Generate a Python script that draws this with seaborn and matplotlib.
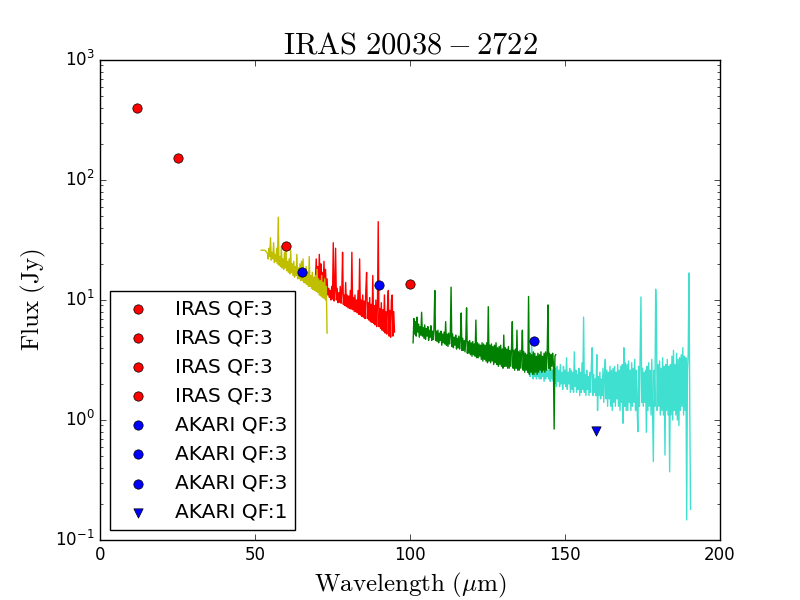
import numpy as np
import matplotlib
matplotlib.use('Agg')
import matplotlib.pyplot as plt
from matplotlib.ticker import FuncFormatter
import seaborn as sns

# photometry
iras_wl = [12, 25, 60, 100]
iras_flux = [400, 152, 28.2, 13.6]
akari_wl = [65, 90, 140]
akari_flux = [17.1, 13.3, 4.55]
akari_lim_wl = [160]
akari_lim_flux = [0.81]

# spectra (flux in Jy, sampled every 0.25 um between the range limits)
yellow_range = (52.0, 73.25)
yellow_flux = [26, 26, 26, 26, 26, 25.8, 25.5, 25, 24.5,
               22, 27, 23, 33, 21.5, 25, 22, 30, 20.5, 24, 21, 27, 20, 49, 19.5,
               23, 19, 28, 18.5, 22, 18, 25, 18.5, 26, 17.5, 21, 17, 22, 16.5,
               26, 17, 20, 16, 21, 15.5, 19, 16, 24, 15, 18.5, 15, 20, 14.5, 21,
               14.5, 22, 14, 17.5, 13.8, 19, 13.5, 17, 13, 23, 13, 16, 12.5, 17,
               12.2, 15.5, 12, 16, 11.8, 18, 11.5, 15, 11, 14.5, 10.8, 16, 10.5,
               14, 10.3, 15, 10, 13, 5.3]

red_range = (69.5, 95.0)
red_flux = [15, 22, 14, 19, 13, 24, 14, 20, 12.5, 17, 13, 21, 12, 18, 11.5, 15,
            11, 12.5, 10.5, 12, 10, 13, 10.2, 30, 9.8, 12, 27, 10, 12.5, 9.5,
            11.5, 9.6, 13, 9.4, 11.5, 25, 9.2, 11, 9, 14, 8.8, 11, 8.6, 10.8,
            8.5, 12, 8.4, 25, 8.3, 10.5, 8, 11, 8, 10, 7.8, 12, 7.6, 22, 7.5,
            10, 7.3, 11, 7.2, 9.8, 7, 12, 17, 7, 9.5, 6.8, 10.5, 6.6, 9.2, 6.5,
            16, 6.4, 9, 6.2, 10, 6, 8.8, 45, 6, 8.5, 5.8, 9.5, 5.6, 8.3, 5.5,
            11, 5.3, 8, 5.2, 9, 12, 5, 8.2, 4.9, 10, 11, 5, 8, 5.4]

green_range = (101.0, 147.0)
green_flux = [4.4, 7.0, 5.2, 6.6, 5.0, 7.2, 5.4, 6.3, 4.9, 6.0, 5.1, 7.9,
              5.0, 5.9, 4.8, 6.2, 4.7, 5.8, 5.0, 6.0, 4.6, 5.6, 4.9, 6.1,
              4.6, 5.5, 4.7, 5.9, 12, 4.6, 5.5, 4.5, 5.6, 4.4, 5.3, 4.6,
              5.5, 4.2, 5.2, 4.4, 5.4, 4.3, 6.6, 4.2, 5.2, 4.1, 5.3, 4.3,
              5.0, 12.8, 4.1, 5.2, 4.0, 4.9, 4.2, 5.1, 3.9, 4.8, 4.0, 5.0,
              3.9, 4.7, 7.8, 3.8, 4.8, 3.8, 4.6, 3.7, 4.7, 8.6, 3.6, 4.5,
              3.6, 4.6, 3.5, 4.4, 3.4, 4.5, 3.5, 4.3, 3.4, 6.8, 3.3, 4.4,
              3.3, 4.3, 3.4, 4.2, 3.2, 4.4, 3.1, 4.3, 3.2, 4.2, 3.1, 4.4,
              3.0, 8.8, 3.1, 4.2, 3.0, 4.3, 3.1, 4.1, 2.9, 4.2, 3.0, 4.4,
              2.9, 4.0, 2.8, 4.1, 2.9, 4.2, 2.8, 3.9, 2.7, 5.1, 2.8, 4.0,
              2.8, 3.9, 2.7, 4.1, 2.7, 3.8, 2.8, 4.0, 6.6, 2.7, 3.8, 2.6,
              3.9, 2.7, 5.6, 2.6, 3.7, 2.6, 3.8, 2.7, 3.6, 5.6, 2.6, 3.7,
              2.5, 3.6, 2.6, 3.5, 2.5, 10.7, 2.4, 3.6, 2.5, 3.5, 2.4, 3.7,
              2.4, 3.6, 2.5, 3.4, 2.4, 3.6, 2.5, 3.5, 2.6, 3.7, 2.5, 3.4,
              2.6, 3.6, 2.5, 3.7, 2.6, 3.5, 9.1, 2.7, 3.6, 2.6, 3.5, 2.8,
              3.6, 3.0, 0.84, 3.4, 3.5]

cyan_range = (138.5, 190.5)
cyan_flux = [2.5, 2.3,
             2.6, 4.3, 2.4, 2.2, 2.8, 2.3, 2.6, 2.2, 2.7, 2.3, 2.5, 2.2,
             2.8, 2.2, 2.6, 2.3, 2.7, 2.1, 2.6, 2.2, 2.8, 2.3, 2.6, 2.2,
             2.9, 2.1, 2.7, 2.2, 2.6, 2.1, 2.8, 2.0, 2.7, 1.9, 2.8, 2.1,
             2.6, 1.9, 2.9, 2.0, 2.5, 1.8, 2.8, 2.0, 2.6, 1.9, 3.3, 1.8,
             2.5, 2.0, 2.7, 1.7, 2.6, 1.8, 2.5, 1.7, 3.7, 1.9, 2.6, 1.7,
             2.4, 1.8, 2.7, 1.6, 2.5, 1.7, 3.0, 1.8, 7.2, 1.7, 2.4, 1.6,
             2.6, 1.8, 2.3, 1.6, 2.5, 1.7, 2.8, 4.0, 1.6, 2.4, 1.7, 2.2,
             1.6, 3.5, 1.2, 2.3, 1.6, 2.5, 1.5, 2.2, 1.6, 2.7, 1.4, 2.4,
             3.2, 1.5, 2.6, 1.3, 2.5, 1.5, 2.8, 1.3, 2.6, 1.2, 2.7, 1.4,
             2.8, 1.3, 2.5, 1.5, 2.9, 1.3, 2.6, 1.2, 2.8, 1.4, 2.9, 0.94,
             4.0, 1.3, 3.0, 1.2, 2.9, 1.2, 3.1, 1.4, 2.6, 1.2, 3.0, 1.3,
             2.7, 1.4, 3.2, 1.2, 2.6, 1.3, 0.8, 2.8, 1.3, 4.0, 10.6, 1.4,
             2.7, 1.3, 2.5, 1.4, 2.6, 0.79, 2.8, 1.2, 3.0, 1.3, 2.6, 1.1,
             3.2, 1.2, 0.45, 2.6, 1.3, 12.3, 6.6, 1.2, 2.9, 1.3, 3.1, 1.1,
             2.7, 1.2, 3.3, 1.1, 2.8, 0.51, 2.9, 1.2, 3.2, 1.1, 2.8, 0.37,
             2.9, 1.1, 3.4, 1.0, 3.8, 1.2, 2.9, 1.1, 3.6, 1.0, 3.2, 0.9,
             3.3, 1.2, 3.5, 1.3, 4.0, 1.1, 3.4, 1.2, 3.3, 0.147, 2.6, 3.6,
             16.8, 1.2, 0.18]

plt.style.use('classic')
plt.rcParams['mathtext.fontset'] = 'cm'

fig, ax = plt.subplots(figsize=(8, 6), dpi=100)
fig.patch.set_facecolor('white')

spectra = [(red_range, red_flux, 'r'),
           (yellow_range, yellow_flux, 'y'),
           (cyan_range, cyan_flux, 'turquoise'),
           (green_range, green_flux, 'g')]
for (lo, hi), flux, col in spectra:
    wl = np.linspace(lo, hi, len(flux))
    sns.lineplot(x=wl, y=flux, color=col, linewidth=1, estimator=None,
                 legend=False, ax=ax)

for w, f in zip(iras_wl, iras_flux):
    sns.scatterplot(x=[w], y=[f], color='r', marker='o', s=45, edgecolor='k',
                    linewidth=0.5, label='IRAS QF:3', zorder=3, ax=ax)
for w, f in zip(akari_wl, akari_flux):
    sns.scatterplot(x=[w], y=[f], color='b', marker='o', s=45, edgecolor='k',
                    linewidth=0.5, label='AKARI QF:3', zorder=3, ax=ax)
for w, f in zip(akari_lim_wl, akari_lim_flux):
    sns.scatterplot(x=[w], y=[f], color='b', marker='v', s=45, edgecolor='k',
                    linewidth=0.5, label='AKARI QF:1', zorder=3, ax=ax)

ax.set_yscale('log')
ax.set_xlim(0, 200)
ax.set_ylim(0.1, 1000)
ax.yaxis.set_major_formatter(FuncFormatter(
    lambda v, pos: r'$\mathregular{10^{%d}}$' % round(np.log10(v))))

ax.set_title(r'$\mathrm{IRAS\ 20038-2722}$', fontsize=22)
ax.set_xlabel(r'$\mathrm{Wavelength\ (\mu m)}$', fontsize=18)
ax.set_ylabel(r'$\mathrm{Flux\ (Jy)}$', fontsize=18)
ax.legend(loc='lower left', scatterpoints=1, fontsize=14.5)

fig.savefig('out.png', dpi=100, facecolor='white')
